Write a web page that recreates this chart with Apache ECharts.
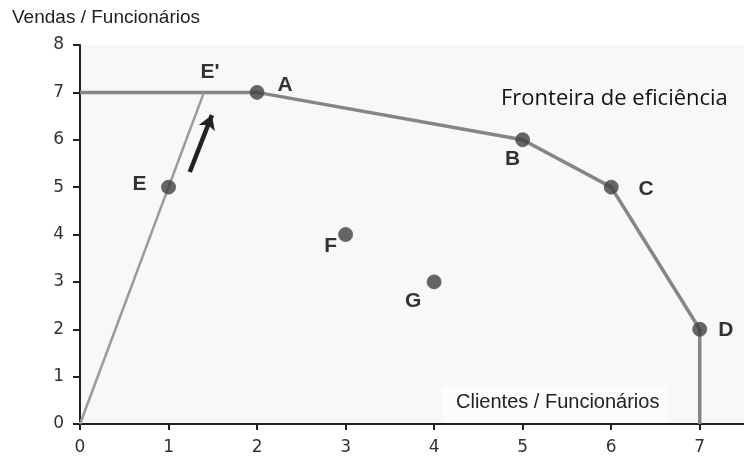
<!DOCTYPE html>
<html>
<head>
<meta charset="utf-8">
<script src="https://cdn.jsdelivr.net/npm/echarts@6/dist/echarts.min.js"></script>
<style>html,body{margin:0;padding:0;background:#fff;}#c{width:744px;height:456px;}</style>
</head>
<body>
<div id="c"></div>
<script>
// ---- data ----
const pointNames = ['A', 'B', 'C', 'D', 'E', 'F', 'G'];
const pointX = [2, 5, 6, 7, 1, 3, 4];
const pointY = [7, 6, 5, 2, 5, 4, 3];
const frontierX = [0, 2, 5, 6, 7, 7];
const frontierY = [7, 7, 6, 5, 2, 0];
const rayX = [0, 1.4];
const rayY = [0, 7];
const projName = "E'";
const projX = 1.4;
const projY = 7;
const arrowX = [1.24, 1.49];
const arrowY = [5.32, 6.52];
const xTicks = [0, 1, 2, 3, 4, 5, 6, 7];
const yTicks = [0, 1, 2, 3, 4, 5, 6, 7, 8];

// label offsets (styling, kept separate)
const labelOffsets = {
  'A': [28, -7], 'B': [-10, 19], 'C': [35, 2], 'D': [26, 1],
  'E': [-29, -3], 'F': [-15, 12], 'G': [-21, 19], "E'": [6, -20]
};

const zip = (xs, ys) => xs.map((x, i) => [x, ys[i]]);

const labelStyle = (name) => ({
  show: true, position: 'inside', offset: labelOffsets[name],
  formatter: name, color: '#000', fontFamily: "'Liberation Sans', Arial, sans-serif",
  fontWeight: 'bold', fontSize: 21
});

const tickFont = "'DejaVu Sans', Verdana, sans-serif";

const chart = echarts.init(document.getElementById('c'), null, {renderer: 'canvas'});
chart.setOption({
  animation: false,
  backgroundColor: '#ffffff',
  grid: {left: 80, right: 0, top: 45, bottom: 32, show: true, backgroundColor: '#f8f8f8', borderWidth: 0},
  xAxis: {
    type: 'value', min: 0, max: 7.5, interval: 1,
    axisLine: {show: true, lineStyle: {color: '#222', width: 2}},
    axisTick: {show: true, length: 6, lineStyle: {color: '#222', width: 2}, customValues: xTicks},
    axisLabel: {color: '#333', fontFamily: tickFont, fontSize: 17, margin: 15, customValues: xTicks},
    splitLine: {show: false}
  },
  yAxis: {
    type: 'value', min: 0, max: 8, interval: 1,
    axisLine: {show: true, lineStyle: {color: '#222', width: 2}},
    axisTick: {show: true, length: 7, lineStyle: {color: '#222', width: 2}, customValues: yTicks},
    axisLabel: {color: '#333', fontFamily: tickFont, fontSize: 17, margin: 16, customValues: yTicks},
    splitLine: {show: false}
  },
  graphic: [
    {type: 'rect', left: 442, top: 386, shape: {width: 226, height: 36}, style: {fill: '#fcfcfc'}, z: 0},
    {type: 'text', left: 12, top: 8, style: {text: 'Vendas / Funcionários', fill: '#222', font: "19px 'Liberation Sans', Arial, sans-serif"}},
    {type: 'text', left: 456, top: 392, style: {text: 'Clientes / Funcionários', fill: '#222', font: "20px 'Liberation Sans', Arial, sans-serif"}, z: 5},
    {type: 'text', left: 501, top: 88, style: {text: 'Fronteira de eficiência', fill: '#111', font: "22px 'Open Sans', sans-serif"}, z: 5}
  ],
  series: [
    {
      type: 'line', data: zip(frontierX, frontierY), symbol: 'none',
      lineStyle: {color: '#858585', width: 3.5}, z: 2
    },
    {
      type: 'line', data: zip(rayX, rayY), symbol: 'none',
      lineStyle: {color: '#9a9a9a', width: 2.5}, z: 2,
      markLine: {
        silent: true, symbol: ['none', 'arrow'], symbolSize: [13, 14],
        label: {show: false},
        lineStyle: {color: '#222', width: 4.5, type: 'solid'},
        data: [[{coord: [arrowX[0], arrowY[0]]}, {coord: [arrowX[1], arrowY[1]]}]]
      }
    },
    {
      type: 'scatter', symbolSize: 14, z: 4,
      itemStyle: {color: '#404040', borderColor: '#5a5a5a', borderWidth: 1},
      data: pointNames.map((n, i) => ({value: [pointX[i], pointY[i]], label: labelStyle(n)}))
    },
    {
      type: 'scatter', symbolSize: 1, z: 4,
      itemStyle: {color: 'rgba(0,0,0,0)'},
      data: [{value: [projX, projY], label: labelStyle(projName)}]
    }
  ]
});
</script>
</body>
</html>
